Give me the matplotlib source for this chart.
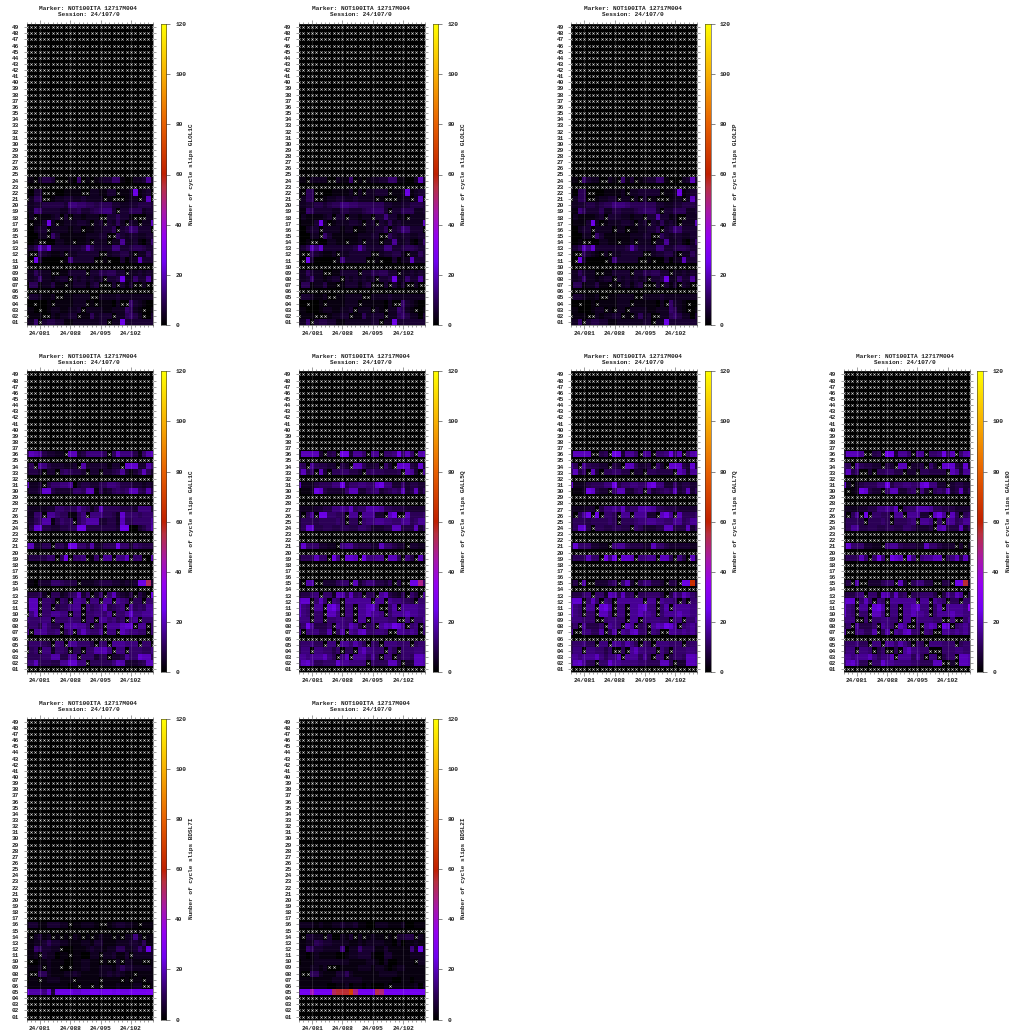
import numpy as np
import matplotlib
matplotlib.use("Agg")
import matplotlib.pyplot as plt
from matplotlib.colors import LinearSegmentedColormap

MARKER_LINE = "Marker: NOT100ITA 12717M004"
SESSION_LINE = "Session: 24/107/0"
DAYS = list(range(78, 108))
ROWS = list(range(1, 50))
XTICK_DAYS = [81, 88, 95, 102]
XTICK_LABELS = ["24/081", "24/088", "24/095", "24/102"]
CBAR_TICKS = [0, 20, 40, 60, 80, 100, 120]

# One character per day: 'x' = no data, otherwise base-36 digit * 2 = slips.
# Rows not listed have no data on any day.
GLOL1C = {
    24: "11x2443xxx106x1x12336610022382",
    22: "1033xxx001111xx221133x112c123x",
    21: "x255xx122332232222x1xxx122x2ax",
    20: "223344444377665545553322334443",
    19: "127633332244533456773x33555233",
    18: "02x11123x3x221222xx335331xxx22",
    17: "0x113c2x1222332x23x3252x32x22a",
    16: "00233x2222122x1122335x3476333x",
    15: "00022x6311111122233xx532332233",
    14: "001xx002211x112x222x2282231026",
    13: "235a7b333333349533337733455433",
    12: "1xx532112x2233333xx233442x2253",
    11: "0xc30000x1733333xx1x003022a333",
    9: "225322xx113333x33545533x223232",
    8: "2236221233x3232323x334c2263382",
    7: "055122411x1333134xxx3x313xx2xx",
    5: "x332112xx112222xx2222322222222",
    4: "00x001x1111222x1x11102xx632100",
    3: "110x012211223x2222112226521x01",
    2: "x111xx212233x1152333x225642x03",
    1: "226x344331122222233x22c3333333",
}
GLOL2C = {
    24: "11x2222xx2116x1x122336611002a3",
    22: "1x55xx0011112x2x22333x112c1233",
    21: "x255xx122332232222x1xxx122x2ax",
    20: "223344345577665555553322334443",
    19: "116533332244333456663x33555223",
    18: "02111123x33x22122x3373312x2222",
    17: "01113c2x1222332x23x3252322222a",
    16: "00233x2222122x1122335x3476333x",
    15: "00022x6311111122233xx532332233",
    14: "001xx002211x112x222x2282231026",
    13: "235a7b333333349533337733455433",
    12: "1xx532112x2233333xx233442x2253",
    11: "0xc30000x1733333xx1x003022a333",
    9: "225322xx113333x33545533x223232",
    8: "2236221233x3232323x334c2263382",
    7: "055122411x1333134xxx3x313xx2xx",
    5: "x332112xx112222xx2222322222222",
    4: "00x001x1111222x1111102xx632100",
    3: "1100012211223x222x21x226521x01",
    2: "x111xxx12233x1152333x225642203",
    1: "226x344331122222233x22c3333333",
}
GLOL2P = {
    24: "11x6322xx21x613x1233661x0x23a3",
    22: "1055xx0011112x2233333x112c1233",
    21: "x255xx12233x22x2x3x1xxx122x2a3",
    20: "223344345577765555553322334443",
    19: "117533352244333456663x33555223",
    18: "02111123x33322122x3393312xx222",
    17: "01113c2x1222332x23x325232x222a",
    16: "00233x2222x22x1122335x34763333",
    15: "00022x6311111122233xx532332233",
    14: "001xx002211x112x222x2282231026",
    13: "235a7b333333349533337733455433",
    12: "1xx5321x2x2233333xx233442x2253",
    11: "0xc30000x1733333xx1x003022a333",
    9: "225322xx113333x33545533x223232",
    8: "2236221233x3232323x334c2263382",
    7: "055122411x1x23134xxx3x313x32xx",
    5: "x332112xx112222xx2222322222222",
    4: "00x001x1111222x1111102x6321x00",
    3: "11000122x1x22x2222112226521x01",
    2: "x111xx212233x1x2523xx225642203",
    1: "226x344331122222233x22c3333333",
}
GALL1C = {
    36: "6a9843322xaa3477775x5a7774169a",
    34: "35x874333223x933333133xbbb3396",
    33: "3443x33x565443x33x334583135a52",
    31: "b223x4667780344335577644433232",
    30: "2334bb43333665aa15235656aa5494",
    27: "32222336655586524a555544437773",
    26: "2266x886551157x7775542b6665666",
    25: "23569914655x5799933442a5566668",
    24: "14bb44334455cc44444443cc003469",
    21: "aa3355x553cc664933555c66365444",
    19: "2444466x5cx667x16x88x77ax66x09",
    15: "110333665444x2223444332323ccq3",
    13: "34452x552356a36x36x6a4324x42xc",
    12: "4aax665x65x887x77x88x876x55x66",
    11: "3aax66x455788x7567a4567x856588",
    10: "x7ax668877x77x667768x668b77889",
    9: "766677x666766x66x886756x78x666",
    8: "46648644x889886x56x888abbx88x6",
    7: "8x888667x57x7a7668x77xa87766x6",
    5: "366654x76x886664x66x888777x66x",
    4: "x56x772665x55x6699a7x77x666557",
    3: "555566994488x666355x334866baa5",
    2: "77a5554488bb77x555557a933345aa",
}
GALL5Q = {
    36: "2aaaa3x45xcc3886x88x667c6a6x9a",
    34: "65x854433x43xaa5334x63xbbb43b3",
    33: "6a46xa3x5566443x56554445xa83x8",
    31: "b222455577c4667766bc7733634433",
    30: "0112cb433336aa3356734565a34a35",
    27: "222233447787a56699985544433333",
    26: "3x58xcc6655x88x88833xacxxa5556",
    25: "35554555565x55x677887766885688",
    24: "35bb445544554466533344aa444a35",
    21: "4b6663322x788544433a66433x3322",
    19: "3555a66xc7xbbaxc7788xaa5x74xa3",
    15: "2x99xx333566xa35774435x4xxcco6",
    13: "34467x662a95a56x55x8a4325x64x8",
    12: "abbx6a6x76x888888x88x877654x66",
    11: "b76x88xbc9x77x88ab7xx69x888877",
    10: "b76x66xaa7x77x88a887x6888a8877",
    9: "777x66x667766x88x777766xx7x668",
    8: "46c84446x876a84x56x8a9cb8x67x6",
    7: "8x777559x59x87ab66776xx88787x6",
    5: "566755x77x886975x65x777666x566",
    4: "577x776646x55x8a7766x75x666776",
    3: "887888a75x7ax888585x77x4665aa9",
    2: "7ab855666b887777x6555aa5x33aa9",
}
GALL7Q = {
    36: "2aaaaxx45xcc3886x88x667c6ax69a",
    34: "85x854433x43xaa5334x63xbbb43b3",
    33: "6a46xa3x556644x33x554444xa8388",
    31: "b222455577c4667766bc7733634433",
    30: "0112cb433x6aa3356x734565a34a35",
    27: "222233x47787a56699985544433333",
    26: "3x58cxcx665x88x88833xac8xa5556",
    25: "35554555565x555677887766885688",
    24: "35bb4x55445544x6533344aa444a35",
    21: "4b6663322x788544433a6643333322",
    19: "3555a66xc7cxbbax7788xaa5x74xa3",
    15: "24x9xx33356x6a3x577443x44xccw3",
    13: "34467x662a95a56x556664x486a864",
    12: "abbx6a6x76x888888x88x8776x5x66",
    11: "b76x88xbc9x77x88ab77x69x888877",
    10: "b76x66xaa7x77x88a887x6888a8877",
    9: "777666xx67766x88x777766x77x668",
    8: "46x84446x876xa8x56x8a9cb8x6786",
    7: "8xx77559x59x87ab66x76xx8878786",
    5: "566755x77x886975x65x777666x566",
    4: "577x776646xx5x8a7766x75x666776",
    3: "887888a7577ax888585x77x4665aa9",
    2: "7ab855x66b88777766555aa5x33aa9",
}
GALL8Q = {
    36: "4aaa8xx45xcc3886x88x667c6ax69a",
    34: "65x854433x43xaax334x63xbbb43b3",
    33: "6a46xx3x556644x33x554444xa8388",
    31: "b2x2455577c4667766bc7733x34433",
    30: "0x12cb433x6aa3356x73x565a34a35",
    27: "222233447787ax5669998554443333",
    26: "3x58xcx6655x88x88833xac8xa5x56",
    25: "35554x55565x55567x887x6x885688",
    24: "358844554455446653334x9a444a35",
    21: "4b6663322x788544433a664333x3x2",
    19: "3555a6x6c7xcbaxc7x788aax57a4a3",
    15: "24x9xx333566xa3x57744xx44xccs3",
    13: "34467x662a95a56x556664x486a8x4",
    12: "abbx6a6x76x888888x88x876x55x66",
    11: "b76x88xbc9x77x88ab77x69x88887g",
    10: "b76x66xaa7x77x88a887x6888a8877",
    9: "777xx6x667766x88x777766xx7xx68",
    8: "46x84446x876xa8xx6x8a9xcbx6786",
    7: "8xx77559x59x87ab66x76xx8878786",
    5: "566755x77x886975x65x777666x566",
    4: "577x776x46xx5x8a7766xxx6667766",
    3: "887888a7577ax888585x77x466xaa9",
    2: "7ab855x66b88777766555aaxx3xaa9",
}
BDSL7I = {
    16: "2331133322x112221xx1233221x111",
    14: "1x2312x1x1x21x1x1211x1x2272x11",
    13: "112235332211122133111222332511",
    12: "11653322x0011123221225522363c3",
    11: "112x322011x110022x223113x22222",
    10: "0x011211100112211x1xx2x2211xx1",
    9: "1112x211x0x1122112221353322221",
    8: "1xx5521112232111122323211x1111",
    7: "011x1222111x11111x1111x1x11x11",
    6: "111111111101x11x1x111211122xx1",
    5: "d9997b3ccccbbccddcddcdccddddee",
}
BDSL2I = {
    16: "222212112232231100222111200111",
    14: "1x3322x300213x2x1211x1x3344x21",
    13: "112254332222112122221102011211",
    12: "1165332222702263331131111172c2",
    11: "110121111001223331003311112222",
    10: "011122222222111122102001111x22",
    9: "1112212xx011112221221012211111",
    8: "1xx552111335211111122221111111",
    7: "111111112222222111111100110111",
    6: "111111100112011010001x11111202",
    5: "dddlddddqssszoddddrpdddddddddd",
}
PANELS = [("GLOL1C", GLOL1C), ("GLOL2C", GLOL2C), ("GLOL2P", GLOL2P),
          ("GALL1C", GALL1C), ("GALL5Q", GALL5Q), ("GALL7Q", GALL7Q), ("GALL8Q", GALL8Q),
          ("BDSL7I", BDSL7I), ("BDSL2I", BDSL2I)]
LAYOUT = [(0, 0), (0, 1), (0, 2), (1, 0), (1, 1), (1, 2), (1, 3), (2, 0), (2, 1)]

W, H = 1009, 1035
plt.rcParams["font.family"] = ["Liberation Mono", "DejaVu Sans"]
plt.rcParams["font.weight"] = "bold"
FS = 4.4
cmap = LinearSegmentedColormap.from_list("slips", [
    (0 / 120, "#000000"), (10 / 120, "#2c0058"), (25 / 120, "#7000f0"), (35 / 120, "#9400f0"),
    (45 / 120, "#a818a8"), (55 / 120, "#b83040"), (60 / 120, "#c02000"), (80 / 120, "#e86000"),
    (100 / 120, "#f8b000"), (120 / 120, "#ffff00")])
TICK = "#555555"


def px_axes(fig, x0, y0, x1, y1):
    return fig.add_axes([x0 / W, 1 - y1 / H, (x1 - x0) / W, (y1 - y0) / H])


def to_grid(rows):
    grid = np.full((len(ROWS), len(DAYS)), np.nan)
    for row, text in rows.items():
        text = text.ljust(len(DAYS), "x")[:len(DAYS)]
        for j, ch in enumerate(text):
            if ch != "x":
                grid[row - 1, j] = int(ch, 36) * 2
    return grid


fig = plt.figure(figsize=(W / 100, H / 100), dpi=100, facecolor="white")
for (name, rows), (r, c) in zip(PANELS, LAYOUT):
    x0 = 26.7 + 272.3 * c
    y0 = 24 + 347.3 * r
    x1, y1 = x0 + 125.9, y0 + 301
    ax = px_axes(fig, x0, y0, x1, y1)
    grid = to_grid(rows)
    ax.set_facecolor("black")
    ax.imshow(np.ma.masked_invalid(grid), cmap=cmap, vmin=0, vmax=120, aspect="auto",
              origin="lower", interpolation="nearest",
              extent=(DAYS[0] - .5, DAYS[-1] + .5, ROWS[0] - .5, ROWS[-1] + .5))
    my, mx = np.where(np.isnan(grid))
    ax.plot(np.array(DAYS)[mx], np.array(ROWS)[my], ls="none", marker="x", ms=1.7, mew=0.4,
            color="#d8d8d8", zorder=3)
    ax.set_xlim(78, 107)
    ax.set_ylim(.5, 49.5)
    ax.set_xticks(XTICK_DAYS, XTICK_LABELS)
    ax.set_xticks(DAYS, minor=True)
    ax.set_yticks(ROWS, [f"{v:02d}" for v in ROWS])
    ax.tick_params(axis="x", which="major", length=2.6, width=.4, color=TICK, labelsize=FS,
                   pad=1.8, top=True, labelcolor="#222222")
    ax.tick_params(axis="x", which="minor", length=1.3, width=.4, color=TICK, top=True)
    ax.tick_params(axis="y", length=2.2, width=.4, color=TICK, labelsize=FS, pad=3.2,
                   right=True, labelcolor="#222222")
    ax.grid(True, axis="x", which="major", color="white", alpha=.18, lw=.5)
    ax.grid(True, axis="y", which="major", color="white", alpha=.05, lw=.4)
    ax.set_axisbelow(False)
    for s in ax.spines.values():
        s.set_linewidth(.4)
        s.set_color("#333333")
    ax.text(.49, 1 + 15 / 301, MARKER_LINE, transform=ax.transAxes, ha="center", va="center",
            fontsize=FS, color="#222222")
    ax.text(.49, 1 + 9 / 301, SESSION_LINE, transform=ax.transAxes, ha="center", va="center",
            fontsize=FS, color="#222222")

    cax = px_axes(fig, x0 + 133.8, y0, x0 + 139.5, y1)
    grad = np.linspace(0, 120, 256).reshape(-1, 1)
    cax.imshow(grad, cmap=cmap, vmin=0, vmax=120, aspect="auto", origin="lower",
               extent=(0, 1, 0, 120))
    cax.set_xticks([])
    cax.yaxis.tick_right()
    cax.set_yticks(CBAR_TICKS, [str(v) for v in CBAR_TICKS])
    cax.tick_params(axis="y", length=3, width=.5, color=TICK, labelsize=FS, pad=3.5,
                    labelcolor="#222222")
    for s in cax.spines.values():
        s.set_linewidth(.4)
        s.set_color("#333333")
    fig.text((x0 + 164.5) / W, 1 - (y0 + 150) / H, f"Number of cycle slips {name}",
             rotation=90, ha="center", va="center", fontsize=FS, color="#222222")

fig.savefig("out.png", dpi=100, facecolor="white")
